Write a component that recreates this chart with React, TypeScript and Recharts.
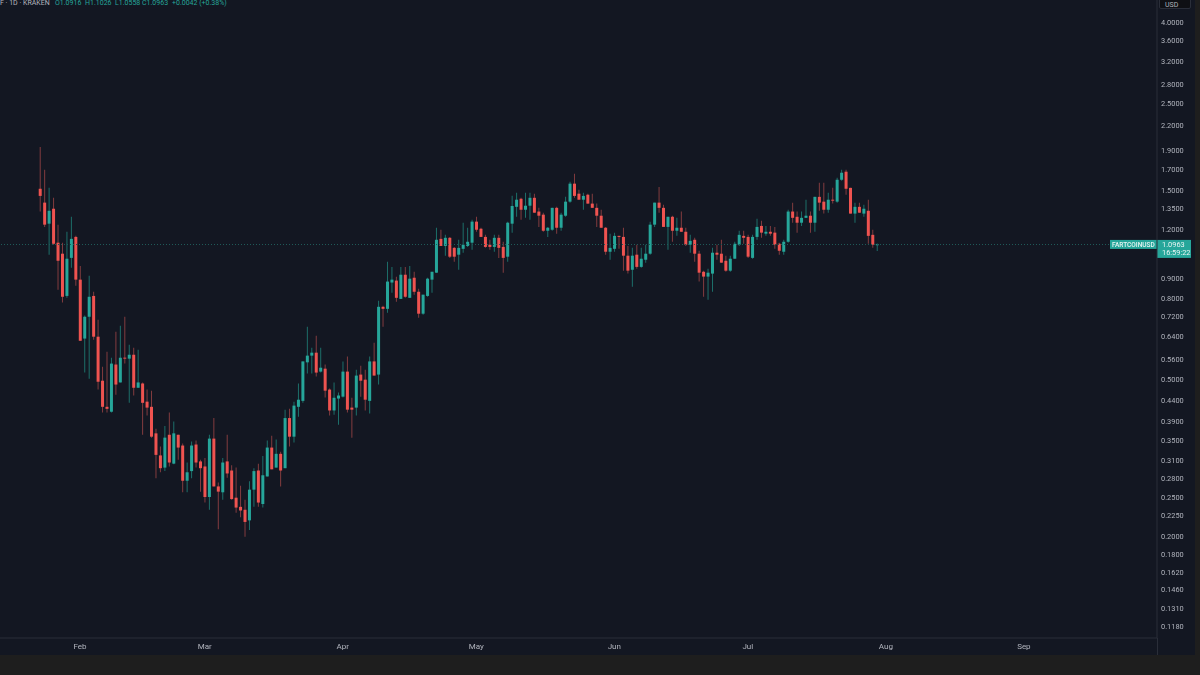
import React from 'react';
import { Bar, Cell, ComposedChart, ReferenceLine, XAxis, YAxis } from 'recharts';

// days are counted from 1 Feb, the first candle sits 9 days before that
const firstDay = -9;

const opens = [
  1.518, 1.4, 1.238, 1.351, 1.108, 1.039, 0.812, 1.014, 1.146, 0.893,
  0.633, 0.719, 0.812, 0.64, 0.495, 0.425, 0.413, 0.544, 0.49, 0.566,
  0.563, 0.576, 0.475, 0.487, 0.438, 0.425, 0.364, 0.32, 0.298, 0.361,
  0.305, 0.361, 0.339, 0.276, 0.292, 0.341, 0.309, 0.3, 0.251, 0.353,
  0.267, 0.258, 0.309, 0.293, 0.25, 0.237, 0.233, 0.219, 0.262, 0.293,
  0.241, 0.283, 0.335, 0.298, 0.323, 0.297, 0.398, 0.357, 0.425, 0.44,
  0.551, 0.573, 0.583, 0.522, 0.531, 0.47, 0.416, 0.446, 0.451, 0.522,
  0.423, 0.423, 0.513, 0.498, 0.44, 0.554, 0.513, 0.762, 0.753, 0.878,
  0.888, 0.798, 0.919, 0.803, 0.903, 0.832, 0.732, 0.812, 0.893, 0.93,
  1.133, 1.087, 1.14, 1.075, 1.033, 1.069, 1.087, 1.108, 1.253, 1.202,
  1.146, 1.095, 1.081, 1.14, 1.081, 1.021, 1.238, 1.366, 1.432, 1.343,
  1.375, 1.44, 1.329, 1.305, 1.188, 1.195, 1.358, 1.209, 1.297, 1.408,
  1.564, 1.475, 1.424, 1.466, 1.392, 1.358, 1.297, 1.209, 1.051, 1.069,
  1.153, 1.146, 1.027, 0.946, 1.033, 0.962, 1.003, 1.039, 1.231, 1.4,
  1.358, 1.215, 1.289, 1.188, 1.209, 1.181, 1.095, 1.127, 1.039, 0.935,
  0.909, 0.925, 1.045, 1.039, 0.997, 0.941, 1.009, 1.095, 1.153, 1.146,
  1.014, 1.146, 1.222, 1.168, 1.181, 1.175, 1.101, 1.051, 1.114, 1.329,
  1.289, 1.245, 1.281, 1.297, 1.245, 1.448, 1.408, 1.343, 1.424, 1.408,
  1.6, 1.677, 1.526, 1.313, 1.366, 1.313, 1.335, 1.16, 1.0916,
];

const highs = [
  1.938, 1.696, 1.526, 1.44, 1.231, 1.108, 1.181, 1.289, 1.153, 0.967,
  0.724, 0.913, 0.832, 0.707, 0.537, 0.586, 0.566, 0.659, 0.682, 0.719,
  0.611, 0.6, 0.593, 0.49, 0.47, 0.467, 0.374, 0.337, 0.38, 0.411,
  0.39, 0.361, 0.343, 0.307, 0.347, 0.349, 0.312, 0.315, 0.361, 0.398,
  0.273, 0.315, 0.361, 0.302, 0.298, 0.268, 0.247, 0.275, 0.297, 0.305,
  0.319, 0.349, 0.359, 0.351, 0.327, 0.418, 0.42, 0.438, 0.487, 0.554,
  0.678, 0.6, 0.644, 0.6, 0.544, 0.473, 0.49, 0.462, 0.554, 0.57,
  0.448, 0.528, 0.54, 0.528, 0.57, 0.618, 0.789, 0.767, 0.992, 0.962,
  0.908, 0.962, 0.962, 0.967, 0.935, 0.847, 0.818, 0.903, 0.935, 1.209,
  1.195, 1.16, 1.146, 1.081, 1.127, 1.245, 1.209, 1.267, 1.289, 1.209,
  1.16, 1.127, 1.16, 1.16, 1.114, 1.253, 1.458, 1.483, 1.44, 1.483,
  1.483, 1.475, 1.358, 1.32, 1.215, 1.358, 1.366, 1.32, 1.448, 1.582,
  1.658, 1.509, 1.483, 1.475, 1.475, 1.392, 1.343, 1.215, 1.168, 1.175,
  1.153, 1.209, 1.087, 1.075, 1.095, 1.075, 1.095, 1.253, 1.4, 1.534,
  1.383, 1.289, 1.297, 1.281, 1.329, 1.209, 1.16, 1.14, 1.057, 0.941,
  0.952, 1.075, 1.095, 1.127, 1.027, 1.027, 1.114, 1.188, 1.188, 1.16,
  1.16, 1.274, 1.26, 1.222, 1.222, 1.215, 1.108, 1.127, 1.343, 1.4,
  1.329, 1.329, 1.424, 1.329, 1.448, 1.573, 1.573, 1.483, 1.526, 1.618,
  1.696, 1.696, 1.526, 1.4, 1.4, 1.383, 1.424, 1.195, 1.1026,
];

const lows = [
  1.329, 1.215, 1.033, 1.095, 0.842, 0.781, 0.803, 0.957, 0.862, 0.625,
  0.519, 0.501, 0.629, 0.47, 0.411, 0.411, 0.411, 0.456, 0.49, 0.547,
  0.435, 0.454, 0.475, 0.361, 0.404, 0.355, 0.28, 0.29, 0.292, 0.3,
  0.304, 0.312, 0.258, 0.258, 0.28, 0.298, 0.259, 0.243, 0.233, 0.267,
  0.208, 0.247, 0.281, 0.247, 0.229, 0.223, 0.199, 0.207, 0.237, 0.237,
  0.236, 0.283, 0.295, 0.298, 0.267, 0.297, 0.337, 0.345, 0.401, 0.435,
  0.516, 0.516, 0.507, 0.519, 0.449, 0.404, 0.406, 0.383, 0.449, 0.411,
  0.355, 0.404, 0.451, 0.416, 0.409, 0.51, 0.484, 0.678, 0.736, 0.827,
  0.785, 0.798, 0.803, 0.803, 0.818, 0.715, 0.728, 0.808, 0.827, 0.93,
  1.087, 1.027, 1.014, 0.992, 0.946, 1.045, 1.081, 1.063, 1.181, 1.146,
  1.075, 1.063, 1.051, 1.014, 0.93, 0.992, 1.175, 1.289, 1.267, 1.281,
  1.267, 1.32, 1.215, 1.181, 1.146, 1.188, 1.168, 1.188, 1.289, 1.4,
  1.44, 1.424, 1.343, 1.391, 1.358, 1.215, 1.209, 1.033, 1.003, 1.051,
  1.069, 0.941, 0.925, 0.857, 0.952, 0.957, 0.986, 1.033, 1.215, 1.32,
  1.215, 1.063, 1.114, 1.153, 1.181, 1.087, 1.045, 0.992, 0.883, 0.808,
  0.794, 0.832, 1.003, 0.986, 0.935, 0.935, 1.009, 1.087, 1.101, 1.014,
  1.009, 1.127, 1.14, 1.153, 1.153, 1.069, 1.033, 1.033, 1.108, 1.245,
  1.175, 1.222, 1.281, 1.175, 1.181, 1.335, 1.313, 1.32, 1.392, 1.4,
  1.591, 1.466, 1.313, 1.245, 1.32, 1.289, 1.101, 1.075, 1.0558,
];

const closes = [
  1.456, 1.231, 1.335, 1.101, 0.997, 0.808, 1.009, 1.133, 0.893, 0.625,
  0.719, 0.808, 0.64, 0.492, 0.425, 0.42, 0.547, 0.484, 0.566, 0.563,
  0.576, 0.475, 0.49, 0.435, 0.423, 0.357, 0.321, 0.297, 0.355, 0.307,
  0.364, 0.335, 0.276, 0.29, 0.339, 0.307, 0.297, 0.251, 0.353, 0.267,
  0.259, 0.307, 0.288, 0.248, 0.236, 0.232, 0.217, 0.262, 0.292, 0.243,
  0.285, 0.335, 0.295, 0.323, 0.293, 0.398, 0.357, 0.428, 0.443, 0.554,
  0.573, 0.583, 0.519, 0.534, 0.467, 0.416, 0.448, 0.454, 0.522, 0.418,
  0.418, 0.51, 0.495, 0.443, 0.554, 0.51, 0.762, 0.753, 0.883, 0.893,
  0.803, 0.919, 0.808, 0.898, 0.832, 0.732, 0.818, 0.898, 0.935, 1.127,
  1.087, 1.14, 1.021, 1.021, 1.075, 1.095, 1.114, 1.253, 1.195, 1.146,
  1.081, 1.081, 1.14, 1.075, 1.014, 1.245, 1.373, 1.424, 1.343, 1.375,
  1.44, 1.32, 1.297, 1.188, 1.209, 1.358, 1.209, 1.305, 1.408, 1.564,
  1.456, 1.424, 1.456, 1.392, 1.358, 1.297, 1.209, 1.051, 1.075, 1.153,
  1.146, 1.027, 0.941, 1.027, 0.962, 1.009, 1.039, 1.231, 1.4, 1.358,
  1.215, 1.289, 1.188, 1.209, 1.181, 1.095, 1.12, 1.039, 0.93, 0.909,
  0.93, 1.045, 1.033, 0.986, 0.941, 1.009, 1.101, 1.16, 1.14, 1.021,
  1.146, 1.215, 1.175, 1.181, 1.168, 1.095, 1.057, 1.114, 1.329, 1.281,
  1.245, 1.281, 1.297, 1.245, 1.448, 1.4, 1.343, 1.424, 1.416, 1.6,
  1.667, 1.518, 1.313, 1.366, 1.32, 1.351, 1.153, 1.095, 1.0963,
];

const monthTicks = [0, 28, 59, 89, 120, 150, 181, 212];
const monthLabels = ['Feb', 'Mar', 'Apr', 'May', 'Jun', 'Jul', 'Aug', 'Sep'];

const priceTicks = [
  4, 3.6, 3.2, 2.8, 2.5, 2.2, 1.9, 1.7, 1.5, 1.35, 1.2, 0.9, 0.8, 0.72, 0.64, 0.56,
  0.5, 0.44, 0.39, 0.35, 0.31, 0.28, 0.25, 0.225, 0.2, 0.18, 0.162, 0.146, 0.131, 0.118,
];

const lastPrice = 1.0963;

const UP = '#26a69a';
const DOWN = '#ef5350';
const UP_WICK = '#1d6f6a';
const DOWN_WICK = '#833c3f';
const BG = '#131722';
const GRID = '#2a2e39';
const TEXT = '#b2b5be';
const FONT = 'Roboto, sans-serif';

const candles = opens.map((open, i) => ({
  day: firstDay + i,
  wick: [lows[i], highs[i]],
  body: [Math.min(open, closes[i]), Math.max(open, closes[i])],
  up: closes[i] >= open,
}));

function LastPriceTag({ viewBox }: any) {
  const right = viewBox.x + viewBox.width;
  const y = viewBox.y;
  return (
    <g fontFamily={FONT} fill="#e8f5f3">
      <rect x={right - 47} y={y - 4.6} width={47} height={9} fill={UP} />
      <text x={right - 45} y={y + 2.6} fontSize={6.5} fontWeight={500}>FARTCOINUSD</text>
      <rect x={right} y={y - 4.6} width={34} height={18} fill={UP} />
      <text x={right + 5} y={y + 2.8} fontSize={7.4}>1.0963</text>
      <text x={right + 5} y={y + 10.8} fontSize={7.4}>16:59:22</text>
    </g>
  );
}

function Legend() {
  const parts: [number, string, string][] = [
    [0, 'F · 1D · KRAKEN', TEXT],
    [55, 'O1.0916', UP],
    [85, 'H1.1026', UP],
    [115, 'L1.0558', UP],
    [142, 'C1.0963', UP],
    [172, '+0.0042 (+0.38%)', UP],
  ];
  return (
    <>
      {parts.map(([left, label, color]) => (
        <span
          key={label}
          style={{ position: 'absolute', left, top: 0, fontSize: 7, lineHeight: '7px', color, fontFamily: FONT, whiteSpace: 'nowrap' }}
        >
          {label}
        </span>
      ))}
    </>
  );
}

export default function App() {
  return (
    <div style={{ position: 'absolute', left: 0, top: 0, width: 1200, height: 675, background: '#1e1e1e', overflow: 'hidden' }}>
      <div style={{ position: 'absolute', left: 0, top: 0, width: 1195, height: 655, background: BG }} />
      <ComposedChart
        width={1195}
        height={655}
        data={candles}
        margin={{ top: 0, right: 0, bottom: 0, left: 0 }}
        style={{ position: 'absolute', left: 0, top: 0, filter: 'blur(0.3px)' }}
      >
        <XAxis
          xAxisId="main"
          dataKey="day"
          type="number"
          domain={[-17.97, 241.9]}
          allowDataOverflow
          ticks={monthTicks}
          interval={0}
          height={17}
          tickLine={false}
          tickSize={3}
          stroke={GRID}
          tick={{ fill: TEXT, fontSize: 8, fontFamily: FONT }}
          tickFormatter={(d: number) => monthLabels[monthTicks.indexOf(d)]}
        />
        <XAxis xAxisId="wicks" dataKey="day" type="number" domain={[-17.97, 241.9]} allowDataOverflow hide />
        <YAxis
          yAxisId="price"
          orientation="right"
          scale="log"
          domain={[0.1102, 4.57]}
          allowDataOverflow
          ticks={priceTicks}
          interval={0}
          width={38}
          tickLine={false}
          tickSize={4}
          tickMargin={0}
          stroke={GRID}
          tick={{ fill: TEXT, fontSize: 7.4, fontFamily: FONT }}
          tickFormatter={(v: number) => v.toFixed(4)}
        />
        <ReferenceLine
          xAxisId="main"
          yAxisId="price"
          y={lastPrice}
          stroke="#1f5a58"
          strokeDasharray="1 2"
          label={<LastPriceTag />}
        />
        <Bar xAxisId="wicks" yAxisId="price" dataKey="wick" barSize={1} isAnimationActive={false}>
          {candles.map((c) => (
            <Cell key={c.day} fill={c.up ? UP_WICK : DOWN_WICK} />
          ))}
        </Bar>
        <Bar xAxisId="main" yAxisId="price" dataKey="body" barSize={3} minPointSize={1} isAnimationActive={false}>
          {candles.map((c) => (
            <Cell key={c.day} fill={c.up ? UP : DOWN} />
          ))}
        </Bar>
      </ComposedChart>
      <div style={{ position: 'absolute', left: 1157, top: 638, width: 1, height: 17, background: GRID }} />
      <Legend />
      <div
        style={{
          position: 'absolute', left: 1159, top: -3, width: 32, height: 12, background: '#0f1014', border: '1px solid #2a2e39',
          borderRadius: 2, color: TEXT, fontSize: 7, lineHeight: '7px', paddingTop: 4, fontFamily: FONT, paddingLeft: 5, boxSizing: 'border-box',
        }}
      >
        USD
      </div>
    </div>
  );
}
